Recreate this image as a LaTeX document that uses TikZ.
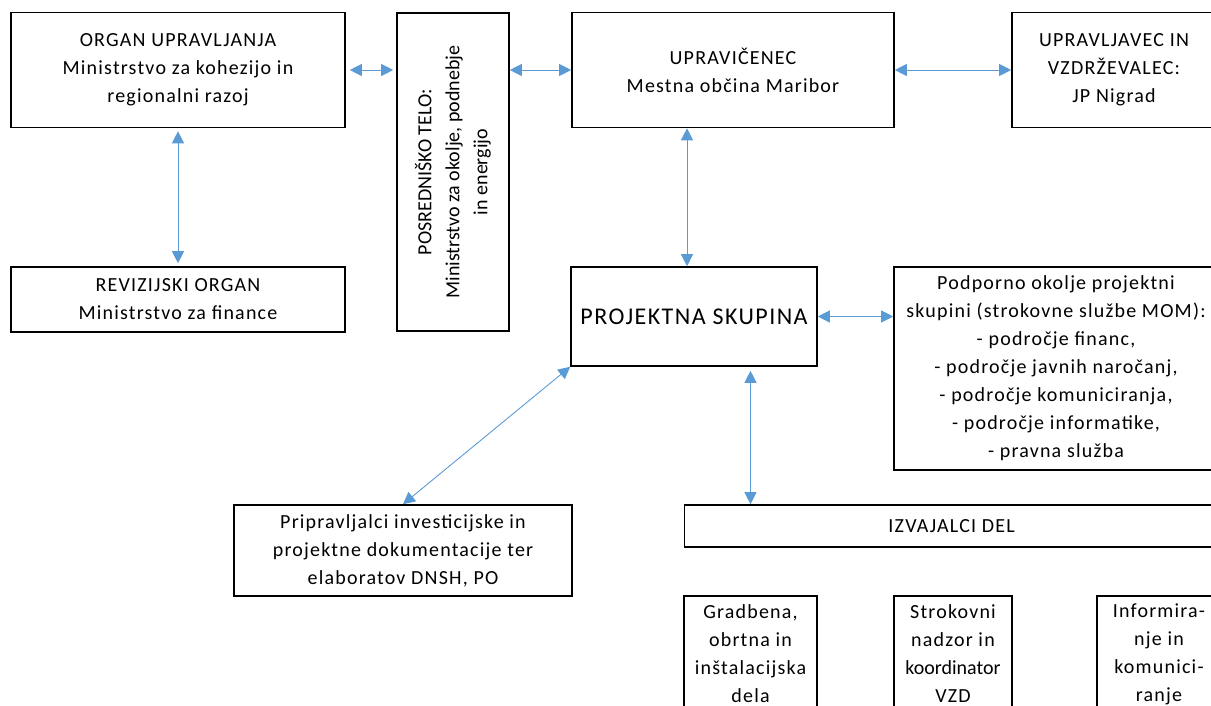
\documentclass[tikz,border=0pt]{standalone}
\usepackage{fontspec}
\setmainfont{Carlito}
\newfontfamily\razprto{Carlito}[LetterSpace=6]
\usepackage{tikz}
\usetikzlibrary{arrows.meta,positioning}
\definecolor{Puscica}{RGB}{91,155,213}

\begin{document}
\begin{tikzpicture}[x=1pt,y=-1pt,
  font=\razprto\fontsize{20}{28}\selectfont,
  okvir/.style={draw,line width=1.6pt,align=center,inner sep=0pt},
  zveza/.style={Puscica,line width=0.9pt,{Triangle[length=12pt,width=12pt]}-{Triangle[length=12pt,width=12pt]}}]
\useasboundingbox (0,0) rectangle (1211,706);
\clip (0,0) rectangle (1211,706);
%
% zgornja vrsta
\node[okvir,minimum width=334pt,minimum height=115pt] (organ) at (178,70) {ORGAN UPRAVLJANJA\\Ministrstvo za kohezijo in\\regionalni razoj};
\node[okvir,minimum width=334pt,minimum height=65pt] (revizija) at (178,299.5) {REVIZIJSKI ORGAN\\Ministrstvo za finance};
\node[okvir,minimum width=112pt,minimum height=318pt] (posred) at (453,172) {};
\node[rotate=90,align=center,font=\normalfont\fontsize{20}{28}\selectfont] (posredtekst) at (posred.center) {POSREDNIŠKO TELO:\\Ministrstvo za okolje, podnebje\\in energijo};
\node[okvir,minimum width=322pt,minimum height=115pt] (upravicenec) at (733,70) {UPRAVIČENEC\\Mestna občina Maribor};
\node[okvir,minimum width=204pt,minimum height=115pt] (upravljavec) at (1114,70) {UPRAVLJAVEC IN\\VZDRŽEVALEC:\\JP Nigrad};
%
% srednji del
\node[okvir,minimum width=246pt,minimum height=99pt] (projekt) at (694,316.5) {\fontsize{24}{28}\selectfont PROJEKTNA SKUPINA};
\node[okvir,minimum width=324pt,minimum height=203pt] (podpora) at (1056,368.5) {Podporno okolje projektni\\skupini (strokovne službe MOM):\\- področje financ,\\- področje javnih naročanj,\\- področje komuniciranja,\\- področje informatike,\\- pravna služba};
\node[okvir,minimum width=338pt,minimum height=91pt] (pripravljalci) at (403,550.5) {Pripravljalci investicijske in\\projektne dokumentacije ter\\elaboratov DNSH, PO};
\node[okvir,minimum width=534pt,minimum height=42pt] (izvajalci) at (951.6,526) {IZVAJALCI DEL};
%
% izvajalci
\node[okvir,minimum width=133pt,minimum height=116pt] (gradbena) at (750.5,654) {Gradbena,\\obrtna in\\inštalacijska\\dela};
\node[okvir,minimum width=118pt,minimum height=116pt] (nadzor) at (953,654) {Strokovni\\nadzor in\\{\normalfont\fontsize{20}{28}\selectfont koordinator}\\VZD};
\node[okvir,minimum width=124pt,minimum height=116pt] (informiranje) at (1159,654) {Informira-\\nje in\\komunici-\\ranje};
%
% povezave
\draw[zveza,shorten <=4pt,shorten >=3pt] (organ.east) -- (organ.east -| posred.west);
\draw[zveza] (upravicenec.west -| posred.east) -- (upravicenec.west);
\draw[zveza] (upravicenec.east) -- (upravicenec.east -| upravljavec.west);
\draw[zveza,shorten <=3pt,shorten >=3pt] (organ.south) -- (revizija.north);
\draw[zveza] ([xshift=-7pt]projekt.north) -- ([xshift=-7pt]projekt.north |- upravicenec.south);
\draw[zveza] (projekt.east) -- (projekt.east -| podpora.west);
\draw[zveza] (projekt.south west) -- (pripravljalci.north);
\draw[zveza,shorten <=4pt] (gradbena.north |- projekt.south) -- (gradbena.north |- izvajalci.north);
%
\end{tikzpicture}
\end{document}
